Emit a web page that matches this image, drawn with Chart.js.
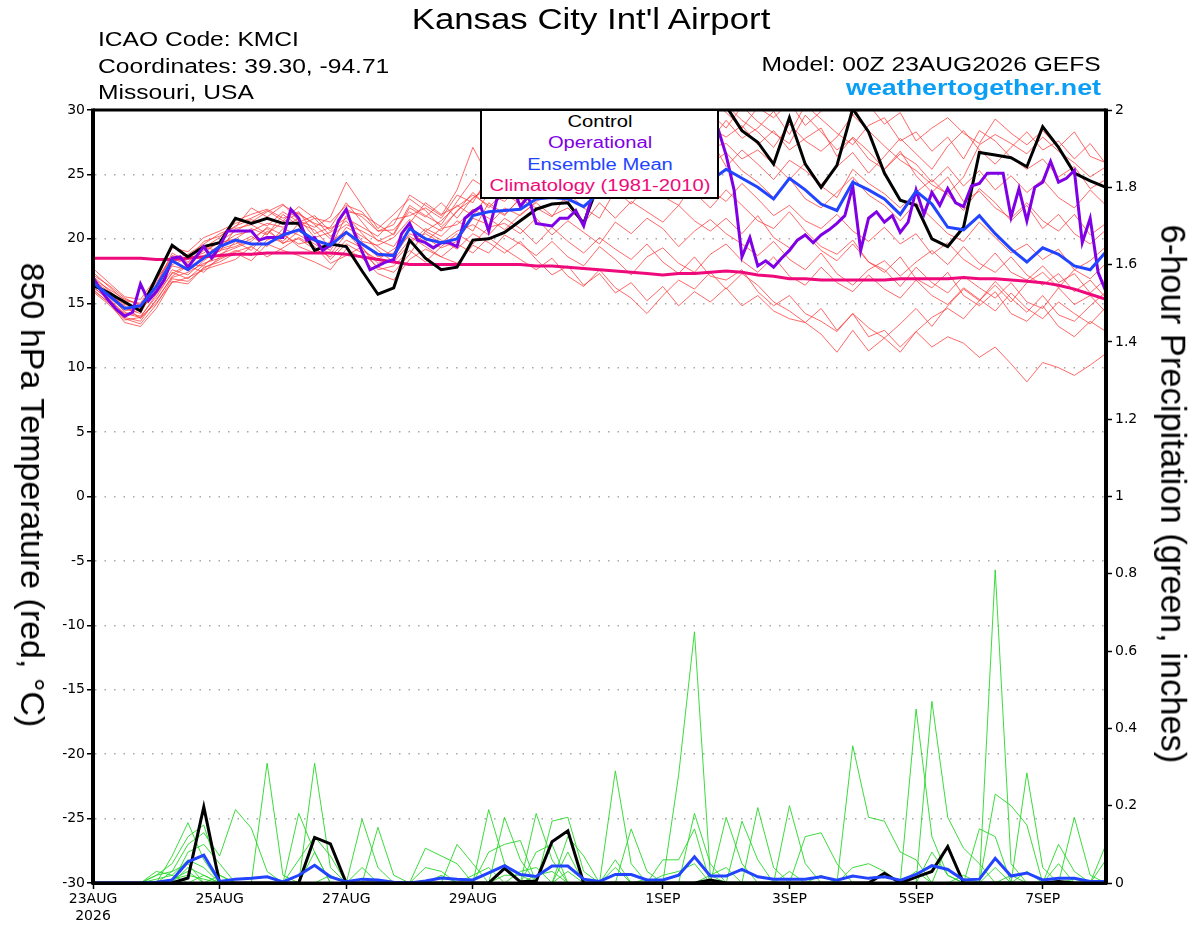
<!DOCTYPE html>
<html>
<head>
<meta charset="utf-8">
<title>Kansas City Int'l Airport - GEFS</title>
<script src="https://cdn.jsdelivr.net/npm/chart.js@4.4.1/dist/chart.umd.min.js"></script>
<style>
  html, body { margin: 0; padding: 0; background: #fff; }
  #wrap { position: relative; width: 1200px; height: 927px; overflow: hidden;
          font-family: 'Liberation Sans', Arial, sans-serif; color: #000; }
  #wrap canvas { position: absolute; left: 0; top: 0; }
  .t { position: absolute; white-space: nowrap; line-height: 1; }
  .l { transform-origin: left center; transform: scaleX(1.23); }
  .r { transform-origin: right center; transform: scaleX(1.23); }
  .c { transform: translateX(-50%) scaleX(1.2); }
  #legend { position: absolute; left: 480px; top: 109px; width: 239px; height: 90px;
            box-sizing: border-box; border: 2px solid #000; background: #fff; }
  .lg { position: absolute; left: 50%; white-space: nowrap; line-height: 1; font-size: 16px;
        transform: translateX(-50%) scaleX(1.26); }
  .vt { position: absolute; white-space: nowrap; line-height: 1; }
</style>
</head>
<body>
<div id="wrap">
  <canvas id="chart" width="1200" height="927"></canvas>

  <div class="t c" style="left:591px; top:5px; font-size:29px;">Kansas City Int'l Airport</div>
  <div class="t l" style="left:98px; top:29px; font-size:20px;">ICAO Code: KMCI</div>
  <div class="t l" style="left:98px; top:56px; font-size:20px;">Coordinates: 39.30, -94.71</div>
  <div class="t l" style="left:98px; top:82px; font-size:20px;">Missouri, USA</div>
  <div class="t r" style="right:99px; top:54px; font-size:20px;">Model: 00Z 23AUG2026 GEFS</div>
  <div class="t" style="right:99px; top:77px; font-size:22px; font-weight:bold; color:#0a9ff5; transform-origin:right center; transform:scaleX(1.22);">weathertogether.net</div>

  <div id="legend">
    <div class="lg" style="top:3px; color:#000;">Control</div>
    <div class="lg" style="top:24px; color:#8000e6;">Operational</div>
    <div class="lg" style="top:46px; color:#2244ff;">Ensemble Mean</div>
    <div class="lg" style="top:67px; color:#ee0a7a;">Climatology (1981-2010)</div>
  </div>

  <div class="vt" style="left:33px; top:495px; font-size:34px; transform: translate(-50%,-50%) rotate(90deg);">850 hPa Temperature (red, °C)</div>
  <div class="vt" style="left:1173px; top:494px; font-size:34.5px; transform: translate(-50%,-50%) rotate(90deg);">6-hour Precipitation (green, inches)</div>
</div>

<script>
// forecast steps are 6-hourly from 00Z 23AUG (index 0) to 00Z 8SEP (index 64)
const xTickHours = [0, 48, 96, 144, 216, 264, 312, 360];
const xTickLabels = [['23AUG', '2026'], '25AUG', '27AUG', '29AUG', '1SEP', '3SEP', '5SEP', '7SEP'];

// 850 hPa temperature (C)
const controlTemp = [
  16.4, 15.8, 15.1, 14.4, 17.0, 19.5, 18.6, 19.4, 19.7, 21.6,
  21.2, 21.6, 21.2, 21.2, 19.1, 19.6, 19.4, 17.5, 15.7, 16.2,
  19.9, 18.5, 17.6, 17.8, 19.9, 20.0, 20.5, 21.4, 22.3, 22.7,
  22.8, 21.2, 24.5, 26.0, 27.0, 27.6, 28.2, 28.6, 29.3, 29.8,
  30.3, 28.4, 27.5, 25.8, 29.4, 25.8, 24.0, 25.7, 30.1, 28.3,
  25.1, 23.0, 22.6, 20.0, 19.4, 20.9, 26.7, 26.5, 26.3, 25.6,
  28.7, 27.1, 25.1, 24.5, 24.0
];
const meanTemp = [
  16.6, 15.6, 14.6, 14.8, 16.3, 18.3, 17.6, 18.5, 19.4, 19.9,
  19.6, 19.6, 20.3, 20.7, 19.9, 19.5, 20.5, 19.6, 18.8, 18.7,
  20.8, 20.0, 19.7, 20.0, 21.8, 22.1, 22.2, 22.3, 23.1, 23.2,
  23.1, 22.5, 23.6, 24.2, 24.5, 24.8, 24.6, 24.9, 25.0, 24.5,
  25.4, 24.7, 24.0, 23.1, 24.7, 23.8, 22.7, 22.2, 24.4, 23.8,
  23.1, 21.9, 23.7, 22.7, 20.9, 20.7, 21.8, 20.4, 19.2, 18.2,
  19.3, 18.8, 17.9, 17.6, 19.0
];
// operational run is 3-hourly (129 values)
const operationalTemp = [
  17.0, 16.0, 15.2, 14.5, 14.0, 14.3, 16.5, 15.2, 15.9, 16.8,
  18.5, 18.6, 17.8, 18.6, 19.4, 18.5, 19.4, 20.6, 20.6, 20.6,
  20.6, 19.9, 20.1, 20.1, 20.1, 22.3, 21.6, 19.9, 20.1, 19.1,
  19.5, 21.4, 22.3, 20.5, 19.0, 17.6, 17.9, 18.2, 18.4, 20.4,
  21.2, 19.9, 19.7, 19.3, 19.7, 19.7, 19.4, 21.6, 22.1, 22.5,
  20.6, 23.0, 23.8, 24.0, 22.5, 23.3, 21.2, 21.1, 21.0, 21.6,
  21.6, 22.2, 21.0, 23.2, 24.5, 25.2, 25.8, 26.3, 26.0, 26.8,
  27.2, 27.0, 27.6, 27.9, 28.3, 28.0, 28.6, 28.9, 29.2, 28.5,
  26.5, 23.8, 18.6, 20.1, 17.9, 18.3, 17.8, 18.5, 19.1, 19.9,
  20.3, 19.7, 20.3, 20.7, 21.2, 21.8, 24.1, 19.1, 21.6, 22.1,
  21.3, 21.8, 20.5, 21.3, 23.8, 21.9, 23.6, 22.6, 23.9, 22.8,
  22.5, 24.1, 24.3, 25.1, 25.1, 25.1, 21.7, 23.9, 21.4, 24.0,
  24.4, 26.0, 24.4, 24.7, 25.3, 19.7, 21.6, 17.4, 15.9
];
const climatologyTemp = [
  18.5, 18.5, 18.5, 18.5, 18.4, 18.4, 18.5, 18.6, 18.7, 18.8,
  18.8, 18.9, 18.9, 18.9, 18.9, 18.9, 18.8, 18.6, 18.4, 18.2,
  18.0, 18.0, 18.0, 18.0, 18.0, 18.0, 18.0, 18.0, 17.9, 17.9,
  17.8, 17.7, 17.6, 17.5, 17.4, 17.3, 17.2, 17.3, 17.3, 17.4,
  17.5, 17.4, 17.2, 17.1, 16.9, 16.9, 16.8, 16.8, 16.8, 16.8,
  16.8, 16.9, 16.9, 16.9, 16.9, 17.0, 16.9, 16.9, 16.8, 16.7,
  16.6, 16.4, 16.1, 15.7, 15.3
];

// ensemble members, 850 hPa temperature
const memberTempA = [
  16.8, 15.9, 14.6, 14.2, 16.4, 18.9, 18.2, 19.3, 20.1, 21.4,
  21.9, 22.3, 21.6, 22.1, 20.4, 20.9, 22.8, 21.3, 19.8, 20.4,
  22.6, 21.8, 21.1, 22.9, 24.6, 23.8, 24.9, 25.7, 26.8, 26.1,
  27.3, 26.4, 27.9, 28.6, 29.4, 28.8, 30.2, 29.5, 30.8, 29.6,
  30.4, 29.2, 28.3, 27.1, 28.9, 27.6, 26.8, 27.9, 29.6, 28.4,
  27.2, 26.1, 25.3, 24.2, 23.5, 24.8, 27.3, 28.1, 27.4, 26.6,
  27.9, 26.8, 25.9, 24.8, 25.6
];
const memberTempB = [
  17.4, 16.3, 15.2, 15.0, 16.9, 18.4, 18.8, 19.6, 20.4, 20.9,
  22.4, 21.7, 22.6, 21.9, 21.2, 20.8, 21.6, 20.9, 20.2, 21.5,
  21.8, 22.4, 21.6, 23.4, 22.8, 24.9, 24.2, 23.6, 25.8, 24.7,
  25.9, 26.8, 25.4, 27.6, 26.9, 28.4, 27.2, 29.1, 28.3, 29.7,
  28.6, 30.3, 29.1, 28.2, 27.4, 29.6, 28.3, 26.9, 27.8, 26.2,
  25.4, 26.8, 24.9, 23.6, 24.8, 22.9, 23.7, 22.4, 21.6, 22.8,
  21.4, 20.6, 21.9, 20.3, 21.2
];
const memberTempC = [
  16.2, 15.4, 14.1, 14.5, 15.8, 17.6, 17.2, 18.3, 19.2, 19.6,
  20.2, 19.4, 20.8, 20.3, 19.6, 18.8, 20.4, 19.7, 18.6, 18.9,
  20.8, 20.1, 19.3, 19.8, 21.6, 21.1, 22.4, 21.8, 22.9, 23.6,
  22.8, 24.1, 23.4, 24.8, 25.6, 24.9, 26.3, 25.4, 24.6, 25.8,
  26.7, 25.3, 24.4, 23.2, 24.7, 23.1, 22.4, 23.6, 24.8, 23.4,
  22.6, 21.4, 22.8, 21.6, 20.4, 19.8, 21.3, 20.1, 18.9, 19.6,
  18.4, 19.2, 17.6, 18.3, 19.4
];
const memberTempD = [
  16.9, 15.6, 14.8, 13.8, 15.2, 17.1, 17.9, 17.4, 18.6, 19.8,
  19.1, 20.6, 19.8, 21.2, 20.7, 19.3, 21.8, 20.4, 19.1, 18.2,
  19.6, 20.8, 20.2, 21.4, 20.6, 22.8, 21.9, 23.1, 22.4, 21.7,
  23.6, 22.4, 21.6, 23.8, 22.7, 24.1, 23.3, 22.6, 24.4, 23.8,
  22.9, 24.3, 23.1, 21.8, 22.6, 21.4, 20.8, 21.9, 20.6, 19.8,
  20.9, 19.6, 20.4, 18.8, 19.7, 18.4, 17.6, 18.9, 17.4, 16.8,
  17.9, 16.6, 17.3, 15.8, 16.9
];
const memberTempE = [
  16.0, 15.1, 13.5, 13.2, 14.6, 16.7, 16.5, 17.8, 18.2, 18.9,
  18.3, 19.6, 19.1, 18.7, 18.2, 17.6, 19.2, 18.5, 17.3, 16.8,
  18.4, 19.2, 18.6, 18.1, 19.5, 18.9, 20.3, 19.6, 18.7, 19.8,
  18.6, 17.9, 19.4, 18.4, 17.2, 18.6, 19.3, 18.1, 17.4, 18.8,
  19.6, 18.3, 17.4, 18.6, 17.1, 16.4, 17.8, 16.6, 15.9, 17.2,
  16.1, 15.4, 16.8, 15.6, 14.9, 16.2, 15.3, 14.4, 15.8, 14.6,
  13.8, 15.1, 14.2, 13.4, 14.7
];
const memberTempF = [
  16.5, 15.8, 14.3, 14.0, 15.5, 17.4, 16.9, 18.0, 18.8, 19.3,
  19.8, 20.9, 20.3, 19.6, 19.9, 18.4, 19.6, 18.9, 17.8, 17.4,
  18.8, 20.6, 19.9, 19.2, 20.4, 19.7, 18.9, 19.8, 18.4, 17.2,
  17.9, 16.4, 17.3, 15.8, 16.6, 15.2, 16.3, 14.8, 15.9, 15.1,
  16.2, 14.8, 15.6, 14.4, 13.8, 13.5, 12.6, 11.2, 12.9, 11.3,
  12.3, 11.2, 12.8, 11.6, 12.4, 11.9, 10.8, 11.6, 10.3, 8.9,
  10.4, 10.0, 9.4, 10.2, 11.1
];
const memberTempG = [
  17.1, 16.0, 15.0, 14.4, 16.1, 18.0, 18.5, 18.9, 19.8, 20.6,
  21.3, 22.1, 22.7, 21.4, 20.9, 21.7, 24.4, 22.6, 20.8, 21.9,
  23.1, 22.2, 20.9, 22.1, 23.6, 22.4, 23.8, 24.6, 23.3, 25.1,
  24.2, 26.3, 25.1, 26.9, 27.8, 26.4, 28.3, 27.1, 28.9, 27.6,
  29.2, 27.8, 28.6, 29.9, 28.1, 30.4, 29.3, 28.2, 27.3, 28.8,
  29.4, 27.6, 28.3, 26.8, 27.9, 26.2, 28.4, 27.6, 26.3, 25.4,
  26.2, 24.8, 25.6, 23.9, 24.6
];
const memberTempH = [
  16.6, 15.5, 14.4, 14.7, 16.0, 17.9, 17.6, 18.7, 19.5, 20.3,
  20.6, 21.2, 20.9, 21.6, 20.1, 20.5, 21.4, 19.8, 19.5, 20.1,
  21.5, 20.6, 21.4, 22.6, 21.8, 23.5, 22.9, 24.1, 23.2, 24.6,
  23.8, 25.1, 24.4, 23.6, 25.2, 24.3, 23.4, 24.8, 23.6, 22.4,
  23.8, 22.6, 21.4, 20.8, 22.1, 20.6, 19.4, 18.8, 19.9, 18.2,
  17.4, 18.6, 16.9, 16.2, 17.4, 15.6, 14.8, 15.9, 14.2, 13.6,
  14.8, 13.2, 12.4, 13.6, 12.8
];
const memberTempI = [
  16.3, 15.2, 13.9, 13.6, 15.3, 17.0, 17.4, 18.1, 18.5, 19.1,
  18.7, 19.9, 20.4, 19.4, 18.9, 19.8, 20.6, 19.1, 18.4, 19.2,
  20.2, 19.4, 18.6, 19.6, 18.9, 20.1, 19.2, 18.4, 17.6, 18.5,
  17.1, 16.3, 17.6, 16.2, 15.4, 14.2, 15.6, 16.8, 16.1, 17.4,
  16.1, 17.3, 16.4, 15.1, 14.4, 13.5, 14.6, 12.9, 14.2, 13.1,
  12.3, 13.4, 14.6, 13.2, 14.8, 16.1, 15.2, 16.7, 15.4, 14.3,
  15.6, 14.1, 13.6, 14.8, 15.9
];
const memberTempJ = [
  16.9, 16.1, 15.3, 14.9, 16.6, 18.6, 18.1, 19.1, 19.7, 20.0,
  20.8, 20.3, 21.9, 21.0, 21.6, 20.2, 21.1, 20.6, 19.9, 19.4,
  21.2, 22.8, 21.9, 22.5, 23.4, 22.6, 21.8, 23.2, 24.4, 23.4,
  24.6, 23.7, 25.8, 24.9, 23.8, 26.2, 25.6, 27.4, 26.3, 27.8,
  25.6, 26.9, 25.8, 24.6, 26.1, 25.3, 24.2, 25.6, 26.7, 25.1,
  26.4, 27.8, 26.6, 25.4, 27.2, 28.4, 26.9, 25.8, 27.1, 28.3,
  26.9, 27.6, 26.2, 27.4, 25.8
];
const memberTempK = [
  16.4, 15.7, 14.9, 14.6, 16.2, 18.2, 18.6, 19.4, 19.0, 20.8,
  21.1, 20.4, 21.3, 22.0, 21.1, 20.0, 22.3, 21.7, 20.6, 20.7,
  22.1, 21.3, 20.6, 22.2, 23.1, 24.3, 23.5, 22.7, 24.2, 25.3,
  26.1, 25.2, 26.7, 25.6, 27.3, 26.1, 27.6, 26.7, 25.9, 27.1,
  27.4, 26.2, 26.9, 25.8, 24.6, 25.9, 24.1, 23.2, 25.4, 24.3,
  23.5, 22.4, 23.6, 24.6, 23.4, 22.2, 23.9, 22.8, 21.4, 22.6,
  20.8, 21.9, 20.4, 19.6, 20.7
];
const memberTempL = [
  15.9, 14.9, 13.7, 13.9, 15.0, 16.6, 17.0, 17.6, 18.0, 18.4,
  19.4, 18.6, 19.3, 20.1, 19.4, 18.1, 18.7, 19.4, 17.6, 17.9,
  19.1, 18.2, 19.4, 20.4, 19.6, 20.9, 21.2, 20.4, 21.6, 20.3,
  21.4, 20.5, 19.6, 21.3, 20.4, 21.6, 20.8, 19.4, 20.6, 21.5,
  20.4, 19.6, 18.7, 19.8, 18.4, 17.6, 18.9, 17.3, 16.4, 17.6,
  18.3, 17.1, 18.2, 19.1, 18.0, 19.4, 18.1, 17.4, 18.6, 17.2,
  16.4, 17.3, 15.9, 16.8, 15.4
];
const memberTempM = [
  17.7, 16.6, 15.5, 15.3, 17.0, 19.3, 19.0, 20.1, 20.6, 21.2,
  21.6, 22.2, 21.4, 22.5, 21.6, 21.3, 22.6, 22.1, 20.6, 21.1,
  23.4, 22.6, 21.8, 23.8, 27.1, 24.8, 25.4, 24.3, 26.2, 25.6,
  26.8, 27.4, 28.6, 27.8, 29.3, 28.4, 29.8, 30.6, 29.4, 30.8,
  29.8, 28.6, 30.2, 29.4, 30.6, 28.8, 29.9, 31.2, 29.6, 30.4,
  28.9, 29.8, 27.6, 28.6, 29.4, 28.2, 27.4, 29.3, 28.2, 27.3,
  28.4, 27.1, 28.3, 26.4, 25.9
];
const memberTempN = [
  16.7, 15.3, 14.2, 13.9, 15.7, 17.3, 18.0, 17.9, 19.1, 19.4,
  20.0, 20.8, 19.6, 20.6, 19.8, 19.1, 20.9, 20.2, 19.4, 18.6,
  20.4, 19.8, 20.8, 21.1, 22.3, 21.6, 20.7, 21.9, 22.8, 21.8,
  22.4, 21.2, 22.8, 21.6, 22.9, 22.1, 21.3, 22.6, 21.4, 20.6,
  21.6, 20.4, 21.8, 20.1, 19.3, 20.4, 19.1, 18.3, 19.6, 18.2,
  17.6, 16.3, 17.8, 16.6, 15.8, 17.1, 16.2, 15.4, 16.6, 15.1,
  14.6, 16.2, 14.9, 15.6, 14.3
];
const memberTempO = [
  17.2, 16.4, 15.4, 14.8, 16.8, 18.7, 18.4, 19.8, 20.2, 21.0,
  21.5, 21.0, 22.1, 21.3, 21.8, 20.6, 22.1, 21.9, 21.1, 20.3,
  22.4, 21.7, 22.8, 21.6, 23.2, 23.9, 24.6, 25.8, 24.6, 26.4,
  25.6, 27.1, 26.2, 28.4, 27.6, 29.2, 28.1, 28.8, 29.6, 28.6,
  27.9, 28.8, 27.3, 28.4, 26.9, 27.8, 28.6, 26.4, 27.9, 26.8,
  25.4, 26.6, 25.8, 24.4, 25.6, 24.1, 25.3, 23.8, 24.9, 23.6,
  24.6, 23.2, 22.4, 23.8, 22.6
];
const memberTempP = [
  16.1, 15.0, 13.8, 13.4, 14.9, 16.9, 16.7, 17.7, 18.4, 19.0,
  19.4, 20.2, 19.7, 20.0, 19.2, 18.6, 19.9, 19.3, 18.1, 18.4,
  19.9, 20.4, 19.7, 20.6, 21.1, 20.3, 21.6, 20.8, 19.6, 20.9,
  19.8, 18.9, 20.1, 19.2, 18.4, 19.6, 18.2, 17.3, 18.6, 17.1,
  16.8, 17.6, 15.9, 14.8, 15.6, 14.2, 13.6, 12.8, 14.2, 12.4,
  12.9, 11.6, 12.8, 13.9, 14.6, 13.8, 15.2, 16.4, 15.1, 16.6,
  17.4, 16.2, 17.6, 16.9, 18.1
];
const memberTemps = [
  memberTempA, memberTempB, memberTempC, memberTempD, memberTempE, memberTempF,
  memberTempG, memberTempH, memberTempI, memberTempJ, memberTempK, memberTempL,
  memberTempM, memberTempN, memberTempO, memberTempP
];

// 6-hour precipitation (inches)
const controlPrecip = [
  0, 0, 0, 0, 0, 0, 0.013, 0.197, 0, 0,
  0, 0, 0, 0, 0.118, 0.101, 0, 0, 0, 0,
  0, 0, 0, 0, 0, 0, 0.038, 0.003, 0.005, 0.107,
  0.135, 0, 0, 0, 0, 0, 0, 0, 0, 0.008,
  0, 0, 0, 0, 0, 0, 0, 0, 0, 0,
  0.025, 0, 0.015, 0.03, 0.094, 0, 0, 0, 0, 0,
  0, 0.004, 0, 0, 0
];
const meanPrecip = [
  0, 0, 0, 0, 0.002, 0.008, 0.055, 0.072, 0.004, 0.01,
  0.012, 0.016, 0.003, 0.02, 0.046, 0.016, 0.003, 0.01, 0.008, 0.002,
  0, 0.005, 0.013, 0.01, 0.008, 0.026, 0.045, 0.022, 0.017, 0.044,
  0.044, 0.01, 0.004, 0.022, 0.022, 0.008, 0.008, 0.02, 0.068, 0.018,
  0.018, 0.035, 0.016, 0.01, 0.01, 0.01, 0.016, 0.007, 0.018, 0.012,
  0.016, 0.007, 0.022, 0.045, 0.035, 0.008, 0.01, 0.064, 0.018, 0.026,
  0.008, 0.012, 0.012, 0.004, 0.004
];
const memberPrecip1 = [
  0, 0, 0, 0, 0, 0.07, 0.156, 0.06, 0, 0,
  0, 0.31, 0.02, 0, 0, 0, 0, 0, 0, 0,
  0, 0, 0, 0, 0, 0.19, 0.05, 0, 0, 0,
  0, 0, 0, 0, 0, 0, 0, 0.28, 0.65, 0.02,
  0, 0, 0, 0, 0, 0, 0, 0, 0, 0,
  0, 0, 0, 0, 0, 0, 0, 0.81, 0.05, 0,
  0, 0, 0, 0, 0
];
const memberPrecip2 = [
  0, 0, 0, 0, 0.02, 0.05, 0.12, 0.15, 0.02, 0,
  0, 0, 0, 0, 0.31, 0.04, 0, 0, 0, 0,
  0, 0, 0, 0, 0, 0, 0, 0, 0.18, 0.06,
  0, 0, 0, 0, 0, 0, 0, 0, 0, 0,
  0, 0, 0, 0, 0, 0, 0, 0, 0.355, 0.17,
  0.16, 0.08, 0.06, 0, 0, 0, 0, 0, 0, 0,
  0, 0, 0, 0, 0
];
const memberPrecip3 = [
  0, 0, 0, 0, 0, 0.03, 0.1, 0.13, 0.07, 0.19,
  0.142, 0.03, 0, 0, 0, 0, 0, 0, 0, 0,
  0, 0, 0, 0, 0, 0, 0.17, 0.06, 0, 0,
  0, 0, 0, 0.29, 0.05, 0, 0, 0, 0, 0,
  0, 0, 0, 0, 0, 0, 0, 0, 0, 0,
  0, 0, 0.45, 0.12, 0.02, 0, 0, 0, 0, 0,
  0, 0, 0, 0, 0
];
const memberPrecip4 = [
  0, 0, 0, 0, 0, 0, 0.08, 0.1, 0.05, 0,
  0, 0, 0, 0.18, 0.08, 0, 0, 0.165, 0.04, 0,
  0, 0, 0, 0, 0, 0, 0, 0, 0, 0.16,
  0.17, 0.03, 0, 0, 0, 0, 0, 0, 0, 0,
  0, 0, 0, 0, 0, 0, 0, 0, 0, 0,
  0, 0, 0, 0.47, 0.17, 0.09, 0.05, 0, 0, 0,
  0, 0, 0, 0, 0
];
const memberPrecip5 = [
  0, 0, 0, 0, 0.01, 0.02, 0.06, 0.04, 0, 0,
  0, 0, 0, 0, 0, 0, 0, 0, 0.144, 0.02,
  0, 0, 0, 0.1, 0.05, 0, 0, 0, 0, 0,
  0.12, 0.07, 0, 0, 0, 0, 0, 0, 0, 0,
  0.17, 0.05, 0, 0, 0, 0, 0, 0, 0, 0,
  0, 0, 0, 0, 0, 0, 0, 0, 0, 0.285,
  0.04, 0, 0, 0, 0
];
const memberPrecip6 = [
  0, 0, 0, 0, 0, 0, 0.04, 0.02, 0, 0,
  0, 0, 0, 0.06, 0.12, 0.07, 0, 0, 0, 0,
  0, 0.09, 0.07, 0.05, 0, 0, 0, 0, 0.08, 0.1,
  0, 0, 0, 0, 0, 0, 0, 0, 0, 0,
  0, 0, 0.195, 0.04, 0, 0, 0, 0, 0, 0,
  0, 0, 0, 0, 0, 0, 0, 0.23, 0.2, 0.15,
  0, 0, 0, 0, 0
];
const memberPrecip7 = [
  0, 0, 0, 0, 0, 0.01, 0.03, 0, 0.02, 0,
  0, 0, 0, 0, 0, 0, 0, 0.04, 0, 0,
  0, 0, 0, 0, 0, 0.08, 0.1, 0.11, 0, 0,
  0, 0, 0, 0, 0, 0, 0, 0, 0.18, 0.05,
  0, 0, 0, 0, 0.2, 0.05, 0, 0, 0, 0,
  0, 0, 0, 0, 0, 0, 0, 0, 0, 0,
  0, 0.1, 0.03, 0, 0
];
const memberPrecip8 = [
  0, 0, 0, 0, 0, 0, 0, 0.02, 0, 0,
  0, 0, 0, 0, 0, 0, 0, 0, 0, 0,
  0, 0.04, 0.03, 0, 0, 0, 0, 0.03, 0.04, 0,
  0.08, 0, 0, 0, 0.14, 0.03, 0, 0, 0, 0,
  0, 0.16, 0.06, 0, 0, 0, 0, 0, 0, 0,
  0, 0, 0, 0, 0.1, 0, 0.14, 0.12, 0, 0,
  0, 0, 0.17, 0.02, 0
];
const memberPrecip9 = [
  0, 0, 0, 0, 0, 0, 0, 0, 0, 0,
  0, 0, 0, 0, 0.08, 0, 0, 0, 0, 0,
  0, 0, 0, 0, 0.02, 0.04, 0, 0, 0, 0,
  0, 0, 0, 0.06, 0, 0, 0.06, 0.06, 0.14, 0,
  0, 0, 0, 0, 0, 0.12, 0.13, 0.05, 0, 0,
  0, 0, 0, 0, 0, 0, 0, 0, 0, 0,
  0, 0.05, 0, 0, 0.1
];
const memberPrecip10 = [
  0, 0, 0, 0, 0.02, 0.03, 0.05, 0, 0, 0,
  0, 0, 0, 0, 0, 0, 0, 0, 0, 0,
  0, 0, 0, 0, 0, 0, 0, 0, 0, 0,
  0, 0, 0, 0.04, 0, 0, 0.02, 0.03, 0.05, 0,
  0, 0, 0, 0, 0, 0, 0, 0, 0.04, 0.05,
  0.03, 0, 0, 0.08, 0.02, 0, 0, 0, 0, 0,
  0, 0, 0, 0, 0.06
];
const memberPrecip11 = [
  0, 0, 0, 0, 0.03, 0.02, 0, 0, 0, 0,
  0, 0, 0, 0, 0, 0, 0, 0, 0, 0,
  0, 0, 0.02, 0, 0, 0, 0.02, 0.02, 0, 0,
  0.03, 0, 0, 0, 0, 0, 0, 0, 0, 0.02,
  0.04, 0, 0, 0, 0.03, 0, 0, 0, 0, 0,
  0, 0, 0.03, 0, 0, 0, 0, 0, 0.02, 0,
  0, 0, 0.01, 0, 0
];
const memberPrecip12 = [
  0, 0, 0, 0, 0, 0.01, 0.02, 0.01, 0, 0,
  0, 0, 0, 0, 0, 0.02, 0, 0, 0, 0,
  0, 0, 0, 0, 0, 0, 0, 0, 0.02, 0.03,
  0, 0, 0, 0, 0, 0.01, 0, 0, 0, 0,
  0, 0, 0, 0, 0, 0, 0.02, 0, 0, 0,
  0, 0, 0, 0, 0, 0.02, 0, 0.04, 0, 0.03,
  0, 0, 0, 0, 0
];
const memberPrecips = [
  memberPrecip1, memberPrecip2, memberPrecip3, memberPrecip4, memberPrecip5, memberPrecip6,
  memberPrecip7, memberPrecip8, memberPrecip9, memberPrecip10, memberPrecip11, memberPrecip12
];

// index -> forecast hour
function series(values, stepHours) {
  return values.map((v, i) => ({ x: i * stepHours, y: v }));
}

function lineSet(values, stepHours, color, width, axis) {
  return {
    data: series(values, stepHours),
    yAxisID: axis,
    borderColor: color,
    borderWidth: width,
    pointRadius: 0,
    tension: 0,
    fill: false
  };
}

// first dataset in the list ends up drawn on top
const datasets = [
  lineSet(meanTemp, 6, '#2244ff', 3, 'y'),
  lineSet(operationalTemp, 3, '#8000e6', 3, 'y'),
  lineSet(controlTemp, 6, '#000000', 3, 'y'),
  lineSet(climatologyTemp, 6, '#ee0a7a', 3, 'y'),
  lineSet(meanPrecip, 6, '#2244ff', 3, 'y2'),
  lineSet(controlPrecip, 6, '#000000', 3, 'y2')
];
memberTemps.forEach((m) => datasets.push(lineSet(m, 6, 'rgba(255, 55, 55, 0.75)', 1, 'y')));
memberPrecips.forEach((m) => datasets.push(lineSet(m, 6, 'rgba(40, 215, 40, 0.9)', 1, 'y2')));

const tickFont = { family: "'DejaVu Sans', sans-serif", size: 14 };

const framePlugin = {
  id: 'frame',
  afterDatasetsDraw(chart) {
    const { ctx, chartArea: a } = chart;
    ctx.save();
    ctx.strokeStyle = '#000';
    ctx.lineWidth = 3;
    ctx.beginPath();
    ctx.moveTo(a.left, a.top);
    ctx.lineTo(a.right, a.top);
    ctx.moveTo(a.left, a.bottom);
    ctx.lineTo(a.right, a.bottom);
    ctx.stroke();
    ctx.lineWidth = 4;
    ctx.beginPath();
    ctx.moveTo(a.left, a.top - 1.5);
    ctx.lineTo(a.left, a.bottom + 1.5);
    ctx.moveTo(a.right, a.top - 1.5);
    ctx.lineTo(a.right, a.bottom + 1.5);
    ctx.stroke();
    ctx.restore();
  }
};

new Chart(document.getElementById('chart').getContext('2d'), {
  type: 'line',
  data: { datasets },
  options: {
    responsive: false,
    animation: false,
    layout: { padding: { top: 110, left: 0, right: 0, bottom: 0 } },
    plugins: { legend: { display: false }, tooltip: { enabled: false } },
    scales: {
      x: {
        type: 'linear',
        min: 0,
        max: 384,
        afterBuildTicks(scale) {
          scale.ticks = xTickHours.map((v) => ({ value: v }));
        },
        ticks: {
          autoSkip: false,
          maxRotation: 0,
          color: '#000',
          font: tickFont,
          padding: 2,
          callback: (v, i) => xTickLabels[i]
        },
        grid: { drawOnChartArea: false, tickColor: '#000', tickLength: 6, tickWidth: 1.5 },
        border: { color: '#000', width: 3 },
        afterFit(scale) { scale.height = 44; }
      },
      y: {
        position: 'left',
        min: -30,
        max: 30,
        ticks: { stepSize: 5, color: '#000', font: tickFont, padding: 2 },
        grid: { color: '#a8a8a8', lineWidth: 1.5, tickColor: '#000', tickLength: 6, tickWidth: 1.5 },
        border: { color: '#000', width: 3, dash: [1.5, 8] },
        afterFit(scale) { scale.width = 93; }
      },
      y2: {
        position: 'right',
        min: 0,
        max: 2,
        ticks: {
          stepSize: 0.2,
          color: '#000',
          font: tickFont,
          padding: 3,
          callback: (v) => String(Math.round(v * 10) / 10)
        },
        grid: { drawOnChartArea: false, tickColor: '#000', tickLength: 6, tickWidth: 1.5 },
        border: { color: '#000', width: 3 },
        afterFit(scale) { scale.width = 94; }
      }
    }
  },
  plugins: [framePlugin]
});
</script>
</body>
</html>
